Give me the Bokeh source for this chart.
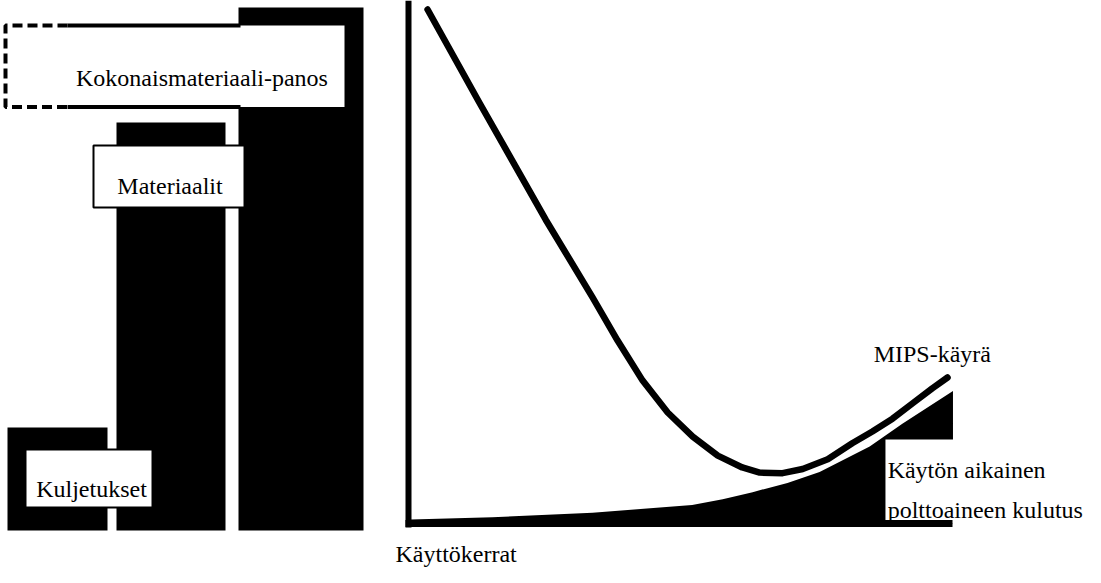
from bokeh.plotting import figure
from bokeh.layouts import row
from bokeh.models import Range1d, FixedTicker, LinearAxis
from bokeh.core.properties import value
from bokeh.embed import file_html
from bokeh.resources import INLINE

FONT = "Liberation Serif"
FS = "24px"

# ---------------- data ----------------
component_names = ["Kuljetukset", "Materiaalit", "Kokonaismateriaali-panos"]
component_values = [19.7, 78.0, 100.0]          # relative material input

mips_uses = [0.35, 1.30, 2.52, 3.38, 3.84, 4.30, 4.76, 5.22, 5.68, 6.13, 6.45, 6.87,
             7.24, 7.70, 8.15, 8.52, 8.89, 9.26, 9.62, 9.90]
mips_values = [100.0, 81.9, 59.1, 44.0, 35.6, 27.8, 21.6, 16.9, 13.2, 10.9, 9.9, 9.8,
               10.6, 12.5, 15.6, 17.9, 20.4, 23.4, 26.3, 28.4]

fuel_uses = [0.04, 1.54, 3.38, 5.21, 5.77, 6.32, 6.96, 7.55, 8.47, 9.07, 10.0]
fuel_values = [0.8, 1.2, 2.1, 3.6, 4.7, 6.1, 7.9, 10.0, 15.0, 19.4, 25.8]

curve_label = "MIPS-käyrä"
fuel_label = ["Käytön aikainen", "polttoaineen kulutus"]
x_label = "Käyttökerrat"

# ---------------- left panel: material input bars ----------------
left = figure(width=392, height=567, x_range=Range1d(0, 392), y_range=Range1d(-7.07, 101.34),
              output_backend="svg", toolbar_location=None, min_border=0,
              x_axis_type=None, y_axis_type=None)
left.outline_line_color = None
left.background_fill_color = "white"

left.quad(left=[7, 116, 238], right=[107, 225, 363], bottom=0, top=component_values,
          fill_color="black", line_color=None)

# total input label box (dashed on the left)
left.quad(left=5, right=344, bottom=80.98, top=96.56, fill_color="white", line_color=None)
left.line(x=[67, 5, 5, 67], y=[96.56, 96.56, 80.98, 80.98], line_width=4,
          line_dash="10 5", line_color="black")
left.multi_line(xs=[[67, 240], [67, 240]], ys=[[96.56, 96.56], [80.98, 80.98]],
                line_width=4, line_color="black")

# materials and transport label boxes
left.quad(left=[93, 25], right=[244, 152], bottom=[61.76, 4.40], top=[73.6, 15.49],
          fill_color="white", line_color="black", line_width=2)

left.text(x=[201.5, 169.5, 91], y=[86.6, 65.96, 8.03],
          text=[component_names[2], component_names[1], component_names[0]],
          text_align="center", text_baseline="alphabetic",
          text_font=value(FONT), text_font_size=FS, text_color="black")

# ---------------- right panel: MIPS curve ----------------
right = figure(width=693, height=567, x_range=Range1d(-0.294, 12.434),
               y_range=Range1d(-8.56, 101.75),
               output_backend="svg", toolbar_location=None, min_border=0,
               x_axis_type=None, y_axis_type=None)
right.outline_line_color = None

xaxis = LinearAxis(fixed_location=0, ticker=FixedTicker(ticks=[]),
                   major_tick_line_color=None, minor_tick_line_color=None,
                   major_label_text_font_size="0px", major_label_standoff=0,
                   axis_line_color="black", axis_line_width=7,
                   bounds=(-0.06, max(fuel_uses)))
yaxis = LinearAxis(fixed_location=0, ticker=FixedTicker(ticks=[]),
                   major_tick_line_color=None, minor_tick_line_color=None,
                   major_label_text_font_size="0px", major_label_standoff=0,
                   axis_line_color="black", axis_line_width=6,
                   bounds=(-0.7, 101.75))
right.add_layout(xaxis, "below")
right.add_layout(yaxis, "left")

right.varea(x=fuel_uses, y1=0, y2=fuel_values, fill_color="black")
right.line(x=mips_uses, y=mips_values, line_width=6.5, line_color="black",
           line_cap="round", line_join="round")

# white box behind the fuel label
right.quad(left=8.76, right=10.3, bottom=0, top=16.34, fill_color="white", line_color=None)

right.text(x=[9.62], y=[32.9], text=[curve_label], text_align="center",
           text_baseline="alphabetic", text_font=value(FONT), text_font_size=FS,
           text_color="black")
right.text(x=[8.80, 8.80], y=[10.5, 2.53], text=fuel_label, text_align="left",
           text_baseline="alphabetic", text_font=value(FONT), text_font_size=FS,
           text_color="black")
right.text(x=[-0.239], y=[-5.9], text=[x_label], text_align="left",
           text_baseline="alphabetic", text_font=value(FONT), text_font_size=FS,
           text_color="black")

for fig in (left, right):
    if "frame_align" in fig.properties():
        fig.frame_align = False

layout = row(left, right)
open("out.html", "w").write(file_html(layout, INLINE))
